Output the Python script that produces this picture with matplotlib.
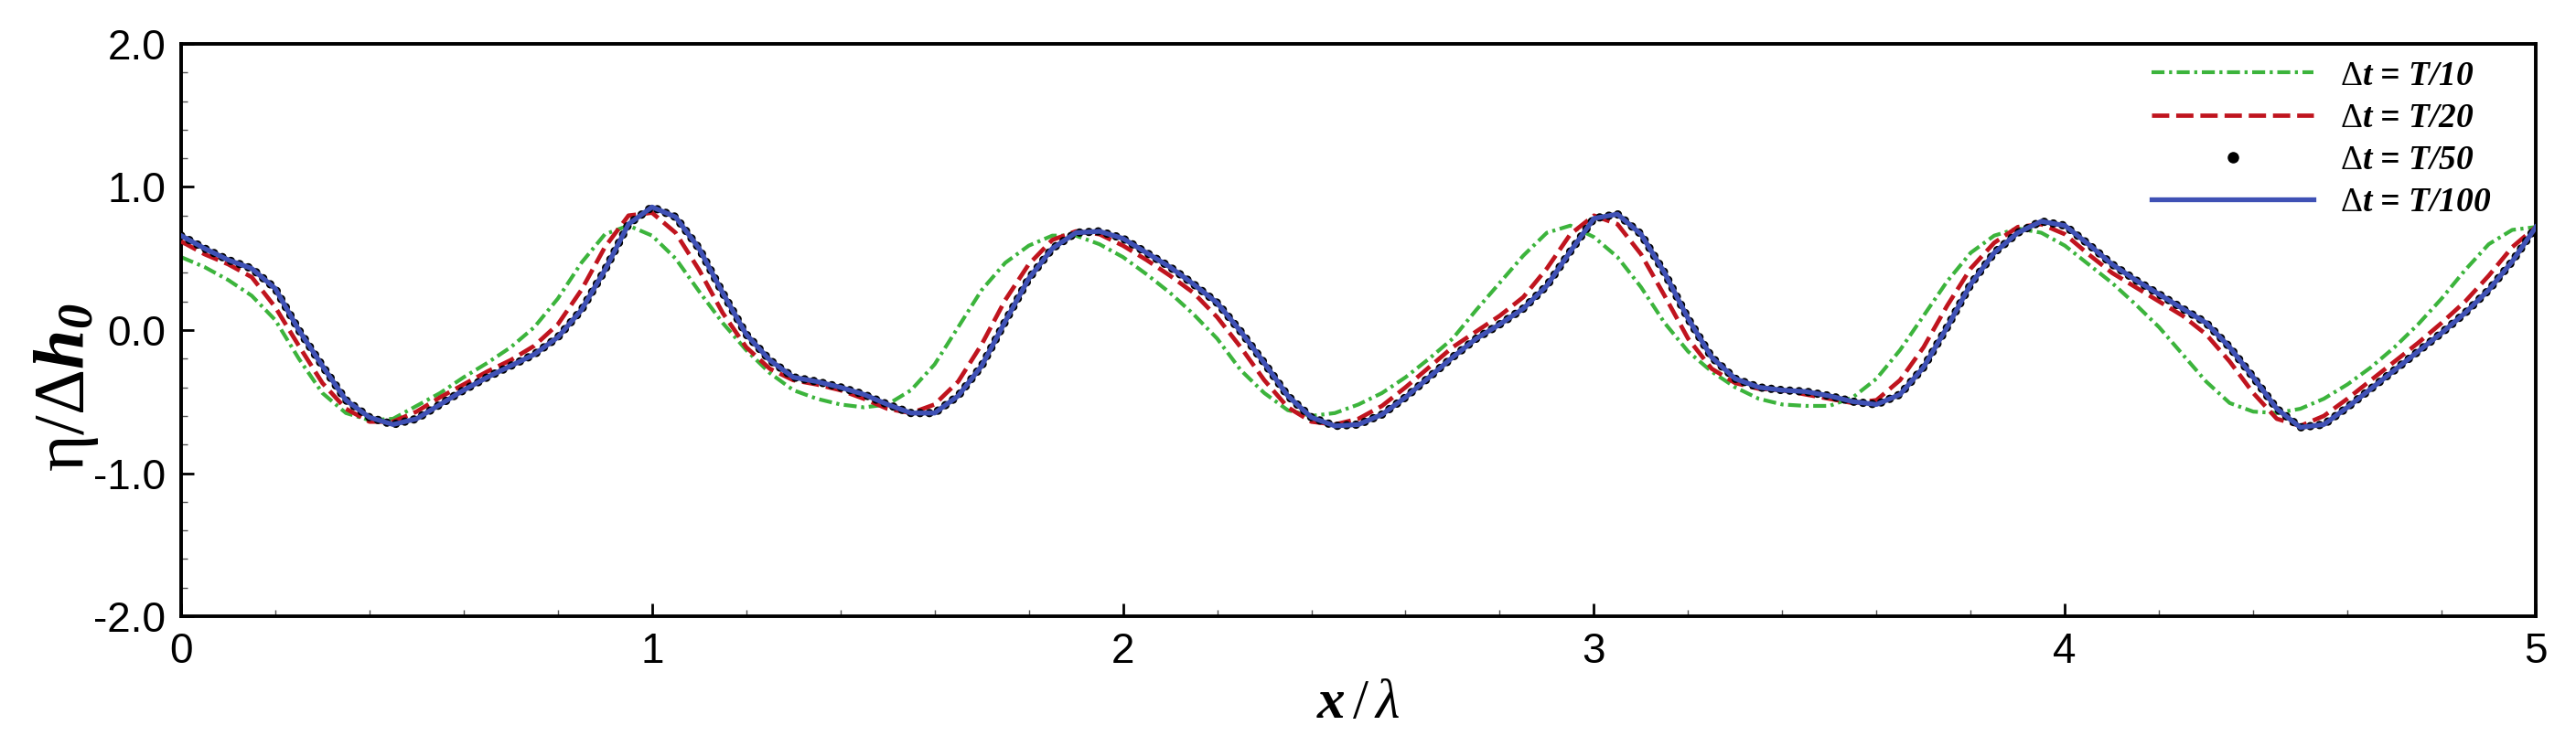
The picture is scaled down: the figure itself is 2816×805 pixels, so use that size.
import matplotlib
matplotlib.use("Agg")
import matplotlib.pyplot as plt
from matplotlib.lines import Line2D
from matplotlib.ticker import MultipleLocator, FormatStrFormatter

# ---------------- data ----------------
x_pos = [0.00, 0.05, 0.10, 0.15, 0.20, 0.25, 0.30, 0.35, 0.40, 0.45,
         0.50, 0.55, 0.60, 0.65, 0.70, 0.75, 0.80, 0.85, 0.90, 0.95,
         1.00, 1.05, 1.10, 1.15, 1.20, 1.25, 1.30, 1.35, 1.40, 1.45,
         1.50, 1.55, 1.60, 1.65, 1.70, 1.75, 1.80, 1.85, 1.90, 1.95,
         2.00, 2.05, 2.10, 2.15, 2.20, 2.25, 2.30, 2.35, 2.40, 2.45,
         2.50, 2.55, 2.60, 2.65, 2.70, 2.75, 2.80, 2.85, 2.90, 2.95,
         3.00, 3.05, 3.10, 3.15, 3.20, 3.25, 3.30, 3.35, 3.40, 3.45,
         3.50, 3.55, 3.60, 3.65, 3.70, 3.75, 3.80, 3.85, 3.90, 3.95,
         4.00, 4.05, 4.10, 4.15, 4.20, 4.25, 4.30, 4.35, 4.40, 4.45,
         4.50, 4.55, 4.60, 4.65, 4.70, 4.75, 4.80, 4.85, 4.90, 4.95,
         5.00]

eta_T10 = [0.51, 0.44, 0.35, 0.24, 0.07, -0.20, -0.44, -0.58, -0.63, -0.62,
           -0.53, -0.44, -0.33, -0.23, -0.12, 0.02, 0.22, 0.47, 0.67, 0.73,
           0.66, 0.50, 0.27, 0.05, -0.14, -0.30, -0.42, -0.48, -0.52, -0.54,
           -0.52, -0.42, -0.24, 0.02, 0.28, 0.47, 0.59, 0.66, 0.66, 0.60,
           0.51, 0.39, 0.26, 0.11, -0.06, -0.28, -0.44, -0.56, -0.60, -0.58,
           -0.52, -0.44, -0.33, -0.20, -0.06, 0.14, 0.33, 0.52, 0.68, 0.73,
           0.65, 0.51, 0.30, 0.05, -0.15, -0.29, -0.40, -0.48, -0.52, -0.53,
           -0.53, -0.47, -0.34, -0.14, 0.10, 0.34, 0.54, 0.66, 0.71, 0.68,
           0.59, 0.46, 0.33, 0.18, 0.02, -0.17, -0.36, -0.51, -0.57, -0.58,
           -0.55, -0.48, -0.38, -0.26, -0.12, 0.04, 0.22, 0.42, 0.60, 0.70,
           0.72]

eta_T20 = [0.62, 0.53, 0.46, 0.37, 0.16, -0.11, -0.37, -0.55, -0.64, -0.64,
           -0.57, -0.47, -0.38, -0.29, -0.21, -0.11, 0.04, 0.28, 0.58, 0.80,
           0.82, 0.68, 0.42, 0.12, -0.12, -0.27, -0.35, -0.38, -0.42, -0.48,
           -0.55, -0.58, -0.52, -0.36, -0.10, 0.21, 0.46, 0.63, 0.69, 0.67,
           0.59, 0.49, 0.38, 0.26, 0.09, -0.12, -0.35, -0.54, -0.64, -0.66,
           -0.62, -0.53, -0.40, -0.26, -0.12, -0.01, 0.10, 0.23, 0.43, 0.67,
           0.80, 0.74, 0.53, 0.24, -0.06, -0.27, -0.37, -0.41, -0.42, -0.45,
           -0.48, -0.51, -0.49, -0.35, -0.12, 0.17, 0.43, 0.61, 0.72, 0.74,
           0.67, 0.53, 0.40, 0.30, 0.20, 0.10, -0.03, -0.22, -0.44, -0.62,
           -0.67, -0.60, -0.48, -0.35, -0.22, -0.09, 0.05, 0.20, 0.38, 0.58,
           0.72]

eta_T50 = [0.66, 0.57, 0.49, 0.43, 0.29, 0.00, -0.25, -0.49, -0.61, -0.66,
           -0.62, -0.52, -0.42, -0.33, -0.25, -0.17, -0.05, 0.14, 0.42, 0.74,
           0.86, 0.79, 0.57, 0.26, -0.03, -0.21, -0.33, -0.36, -0.40, -0.45,
           -0.52, -0.58, -0.58, -0.46, -0.25, 0.06, 0.36, 0.57, 0.68, 0.69,
           0.64, 0.54, 0.44, 0.32, 0.19, -0.01, -0.23, -0.46, -0.61, -0.67,
           -0.66, -0.59, -0.47, -0.33, -0.19, -0.06, 0.04, 0.15, 0.31, 0.55,
           0.78, 0.81, 0.67, 0.40, 0.08, -0.19, -0.34, -0.40, -0.42, -0.43,
           -0.46, -0.50, -0.52, -0.45, -0.26, 0.02, 0.32, 0.54, 0.68, 0.76,
           0.73, 0.60, 0.46, 0.35, 0.25, 0.15, 0.05, -0.12, -0.33, -0.55,
           -0.68, -0.66, -0.54, -0.41, -0.28, -0.15, -0.02, 0.12, 0.28, 0.48,
           0.72]

eta_T100 = [0.66, 0.57, 0.49, 0.43, 0.29, 0.00, -0.25, -0.49, -0.61, -0.66,
            -0.62, -0.52, -0.42, -0.33, -0.25, -0.17, -0.05, 0.14, 0.42, 0.74,
            0.86, 0.79, 0.57, 0.26, -0.03, -0.21, -0.33, -0.36, -0.40, -0.45,
            -0.52, -0.58, -0.58, -0.46, -0.25, 0.06, 0.36, 0.57, 0.68, 0.69,
            0.64, 0.54, 0.44, 0.32, 0.19, -0.01, -0.23, -0.46, -0.61, -0.67,
            -0.66, -0.59, -0.47, -0.33, -0.19, -0.06, 0.04, 0.15, 0.31, 0.55,
            0.78, 0.81, 0.67, 0.40, 0.08, -0.19, -0.34, -0.40, -0.42, -0.43,
            -0.46, -0.50, -0.52, -0.45, -0.26, 0.02, 0.32, 0.54, 0.68, 0.76,
            0.73, 0.60, 0.46, 0.35, 0.25, 0.15, 0.05, -0.12, -0.33, -0.55,
            -0.68, -0.66, -0.54, -0.41, -0.28, -0.15, -0.02, 0.12, 0.28, 0.48,
            0.72]

labels = [r"$\mathrm{\Delta}\mathbf{t}$ = $\mathbf{T/10}$",
          r"$\mathrm{\Delta}\mathbf{t}$ = $\mathbf{T/20}$",
          r"$\mathrm{\Delta}\mathbf{t}$ = $\mathbf{T/50}$",
          r"$\mathrm{\Delta}\mathbf{t}$ = $\mathbf{T/100}$"]
x_ticks = [0, 1, 2, 3, 4, 5]
y_ticks = [-2.0, -1.0, 0.0, 1.0, 2.0]

# ---------------- style ----------------
plt.rcParams["mathtext.fontset"] = "custom"
plt.rcParams["mathtext.rm"] = "Liberation Serif"
plt.rcParams["mathtext.it"] = "Liberation Serif:italic:bold"
plt.rcParams["mathtext.bf"] = "Liberation Serif:italic:bold"
plt.rcParams["mathtext.sf"] = "Liberation Serif:italic"

GREEN = "#3cb43c"
RED = "#c0141e"
BLUE = "#3f51b5"

fig = plt.figure(figsize=(28.16, 8.05), dpi=100)
ax = fig.add_axes([0.0703, 0.1627, 0.9141, 0.7777])

ax.plot(x_pos, eta_T10, color=GREEN, lw=3.0,
        linestyle=(0, (3.4, 1.2, 0.8, 1.2)), dash_capstyle="butt", zorder=2)
ax.plot(x_pos, eta_T20, color=RED, lw=3.4,
        linestyle=(0, (4.0, 1.6)), dash_capstyle="butt", zorder=3)
ax.plot(x_pos, eta_T50, color="black", lw=6.6,
        linestyle=(0, (0.01, 1.1)), dash_capstyle="round", zorder=4)
ax.plot(x_pos, eta_T100, color=BLUE, lw=3.8, zorder=5)

ax.set_xlim(0, 5)
ax.set_ylim(-2, 2)
ax.xaxis.set_minor_locator(MultipleLocator(0.2))
ax.yaxis.set_minor_locator(MultipleLocator(0.2))
ax.set_xticks(x_ticks)
ax.set_yticks(y_ticks)
ax.yaxis.set_major_formatter(FormatStrFormatter("%.1f"))

for s in ax.spines.values():
    s.set_linewidth(2.8)

ax.tick_params(which="major", direction="in", length=10, width=2.0,
               labelsize=33, pad=12, top=False, right=False)
ax.tick_params(which="minor", direction="in", length=5, width=1.0,
               top=False, right=False, color="#555555")
for lab in ax.get_xticklabels() + ax.get_yticklabels():
    lab.set_fontfamily("Liberation Sans")

ax.set_xlabel(r"$\mathbf{x}\,/\,\mathsf{\lambda}$", fontsize=44, labelpad=3)
ax.set_ylabel(r"$\mathrm{\eta/\Delta}\mathbf{h}_{\mathbf{0}}$", fontsize=56)
ax.yaxis.set_label_coords(-0.034, 0.40)

handles = [
    Line2D([], [], color=GREEN, lw=3.0, linestyle=(0, (3.4, 1.2, 0.8, 1.2))),
    Line2D([], [], color=RED, lw=3.4, linestyle=(0, (4.0, 1.6))),
    Line2D([], [], color="black", marker="o", markersize=8, linestyle="none"),
    Line2D([], [], color=BLUE, lw=3.8),
]
leg = ax.legend(handles, labels, loc="upper right", bbox_to_anchor=(0.981, 0.972),
                frameon=False,
                prop=dict(family="Liberation Serif", style="italic", weight="bold", size=27),
                handlelength=4.7, handletextpad=0.77,
                labelspacing=0.3, borderpad=0, borderaxespad=0)

fig.savefig("out.png", dpi=100)
